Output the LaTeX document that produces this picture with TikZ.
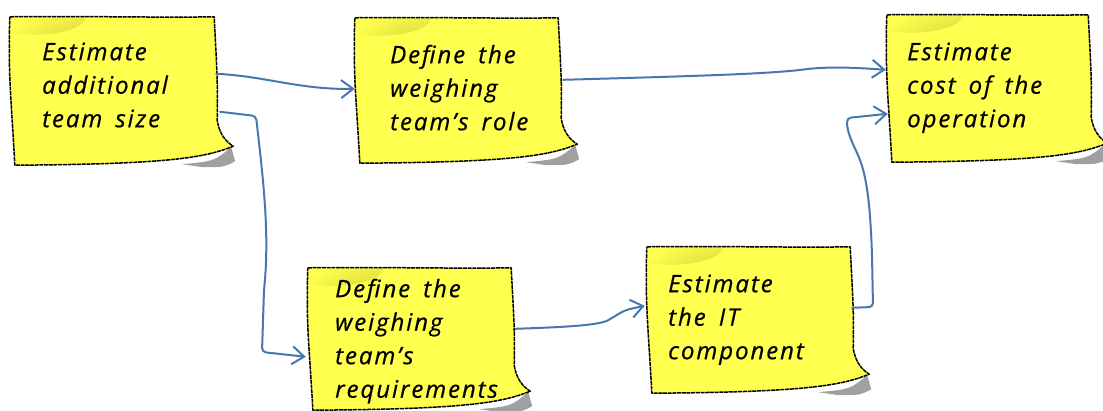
\documentclass[tikz,border=0pt]{standalone}
\usepackage{fontspec}
\newfontfamily\notefont{Open Sans}[LetterSpace=8,WordSpace=1.6,FakeBold=0.6]
\usetikzlibrary{calc,arrows.meta}
\definecolor{noteyellow}{RGB}{255,255,80}
\definecolor{noteshade}{RGB}{175,170,30}
\definecolor{notesh}{RGB}{160,160,160}
\definecolor{connblue}{RGB}{70,120,175}
\tikzset{
  notebox/.style={rectangle, inner sep=0pt, draw=none},
  notebody/.style={fill=noteyellow, draw=black, line width=1.5pt,
    dash pattern=on 4pt off 0.7pt, line join=round,
    path picture={\shade[inner color=noteshade, outer color=noteyellow]
      ([xshift=26pt,yshift=-1pt]path picture bounding box.north west)
      ellipse [x radius=52pt, y radius=18pt];}},
  notetext/.style={anchor=north west, inner sep=0pt, align=left,
    font={\notefont\itshape\fontsize{24}{33.5}\selectfont}},
  conn/.style={draw=connblue, line width=2pt, line cap=round, line join=round,
    rounded corners=4pt, -{Straight Barb[length=12pt,width=18pt]}}
}
\newcommand\papernote[1]{%
  \fill[notesh] let \p1=(#1.north west), \p2=(#1.south east) in
    (\x2-32pt,\y2+1pt) .. controls (\x2,\y2+4pt) .. (\x2+17pt,\y2+18pt)
    -- (\x2+21pt,\y2+4pt) .. controls (\x2+10pt,\y2-2pt) .. (\x2-12pt,\y2-2pt) -- cycle;
  \path[notebody] let \p1=(#1.north west), \p2=(#1.south east) in
    (\x1,\y1) .. controls (\x1+70pt,\y1+1pt) and (\x2-60pt,\y1-1pt) .. (\x2,\y1)
    .. controls (\x2+2pt,\y1-40pt) and (\x2+4pt,\y2+80pt) .. (\x2+3pt,\y2+45pt)
    .. controls (\x2+5pt,\y2+32pt) and (\x2+11pt,\y2+24pt) .. (\x2+19pt,\y2+19pt)
    .. controls (\x2-10pt,\y2+7pt) and (\x2-50pt,\y2+1pt) .. (\x1+5pt,\y2)
    .. controls (\x1+2pt,\y2+60pt) and (\x1-2pt,\y1-60pt) .. cycle;
}
\begin{document}
\begin{tikzpicture}[x=1pt,y=-1pt]
\useasboundingbox[fill=white] (0,0) rectangle (1103,411);
% note frames
\node[notebox, minimum width=204pt, minimum height=148pt] (n1) at (112,91) {};
\node[notebox, minimum width=203pt, minimum height=145pt] (n2) at (456.5,90.5) {};
\node[notebox, minimum width=201pt, minimum height=147pt] (n3) at (987.5,88.5) {};
\node[notebox, minimum width=203pt, minimum height=142pt] (n4) at (409.5,339) {};
\node[notebox, minimum width=203pt, minimum height=146pt] (n5) at (748.5,320) {};
\papernote{n1}
\papernote{n2}
\papernote{n3}
\papernote{n4}
\papernote{n5}
% texts
\node[notetext] (t1) at (42,40) {\rule{0pt}{20pt}Estimate\\additional\\team size};
\node[notetext] (t2) at (390,43) {\rule{0pt}{20pt}Define the\\weighing\\team’s role};
\node[notetext] (t3) at (907,40) {\rule{0pt}{20pt}Estimate\\cost of the\\operation};
\node[notetext] (t4) at (335,277) {\rule{0pt}{20pt}Define the\\weighing\\team’s\\requirements};
\node[notetext] (t5) at (668,272) {\rule{0pt}{20pt}Estimate\\the IT\\component};
% connectors
\draw[conn] ($(n1.north east)+(2,57)$) .. controls (265,76) and (300,90) .. ($(n2.north west)+(0,71)$);
\draw[conn] ($(n1.north east)+(6,95)$) -- (256,116) .. controls (262,170) and (270,230) .. (264,290)
  -- (262,352) -- ($(n4.north west)+(-2,89)$);
\draw[conn] ($(n2.north east)+(5,62)$) .. controls (700,76) and (760,74) .. (800,70)
  .. controls (830,66) and (860,68) .. ($(n3.north west)+(-1,55)$);
\draw[conn] ($(n4.north east)+(4,61)$) .. controls (570,327) and (600,325) .. (612,318)
  .. controls (625,310) .. ($(n5.north west)+(-2,59)$);
\draw[conn] ($(n5.north east)+(2,61)$) -- (873,307) -- (872,255) .. controls (870,200) and (866,175) .. (858,155)
  .. controls (850,138) and (847,130) .. (847,118) -- ($(n3.north west)+(1,99)$);
\end{tikzpicture}
\end{document}
